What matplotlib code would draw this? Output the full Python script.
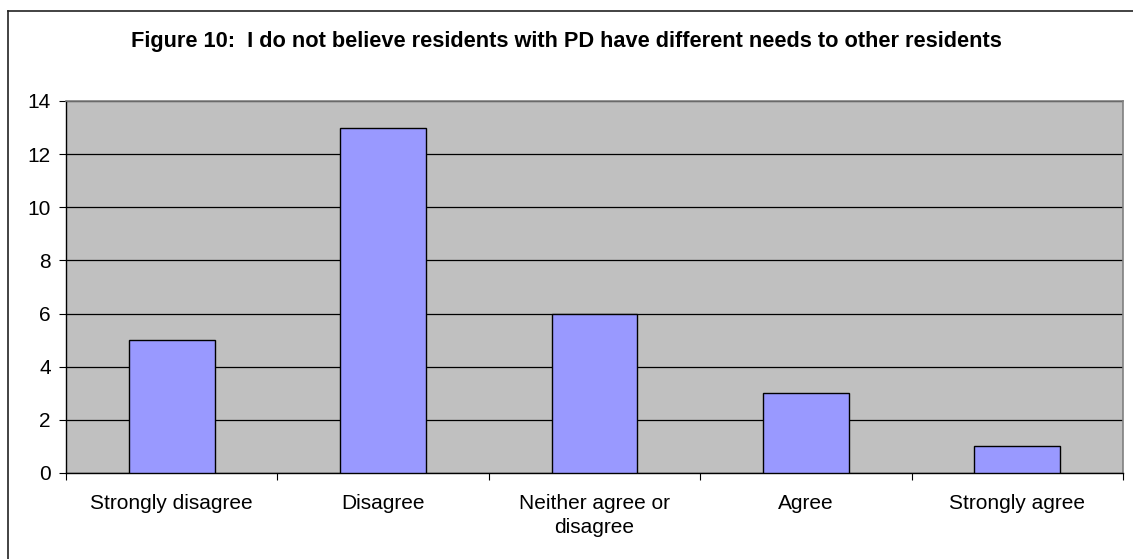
import numpy as np
import matplotlib.pyplot as plt
from matplotlib.lines import Line2D
from matplotlib.ticker import FixedLocator

plt.rcParams['font.family'] = ['Liberation Sans', 'DejaVu Sans']

categories = ['Strongly disagree', 'Disagree', 'Neither agree or\ndisagree', 'Agree', 'Strongly agree']
counts = [5, 13, 6, 3, 1]
title = 'Figure 10:  I do not believe residents with PD have different needs to other residents'

fig = plt.figure(figsize=(11.33, 5.59), dpi=100)
fig.patch.set_facecolor('white')

# chart-area frame (only left and top edges fall inside the image)
x0, ytop = 7.5 / 1133, 1 - 10.5 / 559
fig.lines.append(Line2D([x0, x0], [0, ytop], transform=fig.transFigure, color='#222222', linewidth=1.2))
fig.lines.append(Line2D([x0, 1], [ytop, ytop], transform=fig.transFigure, color='#222222', linewidth=1.2))

ax = fig.add_axes([66 / 1133, 86 / 559, 1057 / 1133, 372 / 559])
ax.set_facecolor('#C0C0C0')

x = np.arange(len(categories))
ax.set_axisbelow(True)
ax.yaxis.grid(True, color='black', linewidth=0.9)
ax.bar(x, counts, width=0.405, color='#9999FF', edgecolor='black', linewidth=1.0, zorder=3)

ax.set_xlim(-0.5, len(categories) - 0.5)
ax.set_ylim(0, 14)
ax.set_yticks(np.arange(0, 15, 2))

ax.set_xticks(x)
ax.set_xticklabels(categories, fontsize=15, linespacing=1.35)
ax.tick_params(axis='x', which='major', length=0, pad=15)
ax.xaxis.set_minor_locator(FixedLocator(np.arange(-0.5, len(categories), 1)))
ax.tick_params(axis='x', which='minor', length=5, width=0.8, color='black')
ax.tick_params(axis='y', length=5, width=0.8, labelsize=15, pad=6)

for side in ['top', 'right']:
    ax.spines[side].set_color('#808080')
    ax.spines[side].set_linewidth(1.2)
ax.spines['left'].set_color('black')
ax.spines['bottom'].set_color('black')
ax.spines['left'].set_linewidth(1.0)
ax.spines['bottom'].set_linewidth(1.0)

fig.text(0.5, 1 - 41 / 559, title, ha='center', va='center', fontsize=15.7, fontweight='bold')

fig.savefig('out.png', dpi=100)
